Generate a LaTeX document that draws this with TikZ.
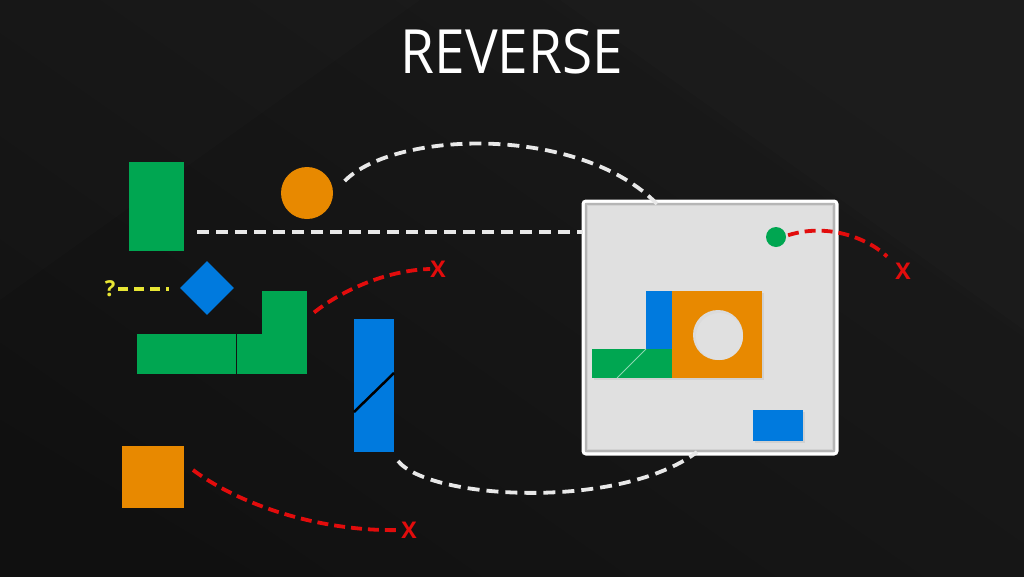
\documentclass[tikz,border=0pt]{standalone}
\usepackage{fontspec}
\setmainfont{Open Sans}
\usetikzlibrary{shapes.geometric}
\definecolor{bgdark}{RGB}{17,17,17}
\definecolor{bglight}{RGB}{26,26,26}
\definecolor{pgreen}{RGB}{0,166,81}
\definecolor{porange}{RGB}{232,137,0}
\definecolor{pblue}{RGB}{0,122,222}
\definecolor{xred}{RGB}{226,12,12}
\definecolor{qyellow}{RGB}{232,230,52}
\definecolor{linkwhite}{RGB}{232,232,232}
\definecolor{boardgrey}{RGB}{224,224,224}

\begin{document}
\begin{tikzpicture}[x=1pt,y=-1pt,
  blk/.style={rectangle,inner sep=0pt,outer sep=0pt},
  wlink/.style={draw=linkwhite,line width=3.8pt,dash pattern=on 12pt off 7pt},
  rlink/.style={draw=xred,line width=3.8pt,dash pattern=on 11pt off 6pt},
  ylink/.style={draw=qyellow,line width=3.6pt,dash pattern=on 10pt off 6pt},
  xmark/.style={text=xred,font=\fontsize{23}{23}\selectfont\bfseries,inner sep=0pt}]
\useasboundingbox (0,0) rectangle (1024,576);
% background
\shade[bottom color=bgdark,top color=bglight,shading angle=-35] (0,0) rectangle (1024,576);
\fill[white,opacity=0.01] (0,0) -- (420,0) -- (0,300) -- cycle;
\fill[white,opacity=0.012] (560,0) -- (1024,0) -- (1024,330) -- cycle;
\fill[black,opacity=0.05] (0,420) -- (260,576) -- (0,576) -- cycle;

\path (512,52) node(title)[text=white,font=\fontsize{61}{61}\selectfont]{\scalebox{0.9}[1]{REVERSE}};

% loose pieces
\path (156.5,206.5) node(gbar)[blk,fill=pgreen,minimum width=55pt,minimum height=89pt]{}
(307,193) node(ball)[circle,fill=porange,inner sep=0pt,minimum size=52pt]{}
(207,288) node(dia)[diamond,fill=pblue,inner sep=0pt,minimum size=54pt]{}
(186.25,354) node(lbar)[blk,fill=pgreen,minimum width=98.5pt,minimum height=40pt]{}
(284.5,312.5) node(lup)[blk,fill=pgreen,minimum width=45pt,minimum height=43pt]{}
(272,354) node(ldown)[blk,fill=pgreen,minimum width=70pt,minimum height=40pt]{}
(374,385.5) node(tblue)[blk,fill=pblue,minimum width=40pt,minimum height=133pt]{}
(153,477) node(osq)[blk,fill=porange,minimum width=62pt,minimum height=62pt]{}
(110,289) node(q)[text=qyellow,font=\fontsize{22}{22}\selectfont\bfseries,inner sep=0pt]{?};
\draw[black,line width=2.5pt] ([yshift=-26.5pt]tblue.west)--([yshift=12.5pt]tblue.east);

% board
\path (710,327.5) node(box)[blk,fill=boardgrey,draw=white,line width=3pt,rounded corners=3pt,minimum width=254pt,minimum height=253pt]{};
\draw[black!40,line width=1.2pt,opacity=0.6] (586,204) rectangle (834,451);
\draw[black!25,line width=1.5pt,opacity=0.4] (587.5,205.5) rectangle (832.5,449.5);
\fill[black!25,opacity=0.45] (594,351) rectangle (764,380);
\fill[black!25,opacity=0.45] (648,293) rectangle (764,351);
\fill[black!25,opacity=0.45] (755,412) rectangle (805,443);
\path (776,237) node(gdot)[circle,fill=pgreen,inner sep=0pt,minimum size=20pt]{}
(717,334.5) node(hole)[blk,fill=porange,minimum width=90pt,minimum height=87pt]{}
(659,320) node(bpeg)[blk,fill=pblue,minimum width=26pt,minimum height=58pt]{}
(632,363.5) node(gfoot)[blk,fill=pgreen,minimum width=80pt,minimum height=29pt]{}
(778,425.5) node(bsmall)[blk,fill=pblue,minimum width=50pt,minimum height=31pt]{};
\fill[black!14] (718,335) circle (25pt);
\fill[boardgrey] (719.5,336.5) circle (23.5pt);
\draw[pgreen!45!white,line width=0.8pt] (gfoot.south west)++(25pt,0pt)--(bpeg.south west);

% links
\coordinate (gstart) at ([shift={(13pt,19pt)}]gbar.south east);
\draw[wlink] (gstart)--(gstart -| box.west);
\draw[wlink] ([shift={(13pt,3pt)}]ball.20) .. controls (395,130) and (580,125) .. ([shift={(-53pt,-3pt)}]box.north);
\draw[wlink] ([shift={(4pt,-9pt)}]tblue.south east) .. controls (430,500) and (620,510) .. ([shift={(-13pt,2pt)}]box.south);
\draw[ylink] ([xshift=3pt]q.east)--([xshift=-11pt]q.east -| dia.west);

\path (438,269) node(x1)[xmark]{X}
(409,530) node(x2)[xmark]{X}
(903,271) node(x3)[xmark]{X};
\draw[rlink] ([xshift=7pt]lup.east) .. controls (345,288) and (390,270) .. (x1.west);
\draw[rlink] ([shift={(9pt,7pt)}]osq.east) .. controls (240,505) and (320,532) .. (x2.west);
\draw[rlink] ([xshift=2pt]gdot.10) .. controls (830,222) and (870,240) .. ([shift={(-8pt,6pt)}]x3.north west);
\end{tikzpicture}
\end{document}
